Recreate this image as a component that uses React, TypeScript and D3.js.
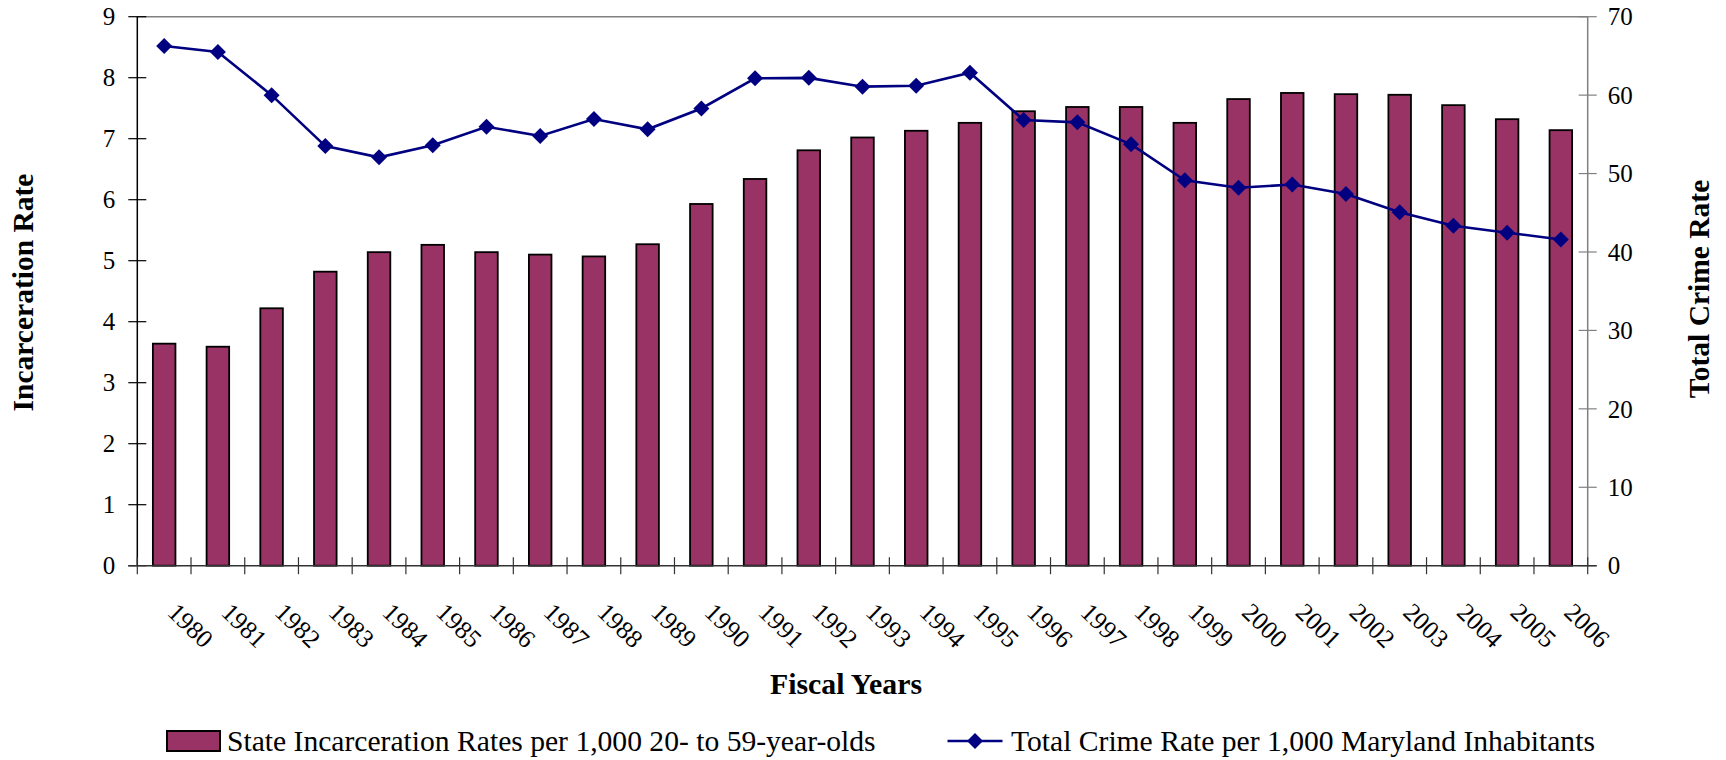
import React from "react";
import * as d3 from "d3";

const years = [
  "1980", "1981", "1982", "1983", "1984", "1985", "1986", "1987", "1988",
  "1989", "1990", "1991", "1992", "1993", "1994", "1995", "1996", "1997",
  "1998", "1999", "2000", "2001", "2002", "2003", "2004", "2005", "2006",
];

// State incarceration rate per 1,000 residents aged 20-59 (left axis)
const incarcerationRates = [
  3.64, 3.59, 4.22, 4.82, 5.14, 5.26, 5.14, 5.1, 5.07, 5.27, 5.93, 6.34, 6.81,
  7.02, 7.13, 7.26, 7.45, 7.52, 7.52, 7.26, 7.65, 7.75, 7.73, 7.72, 7.55, 7.32,
  7.14,
];

// Total crime rate per 1,000 Maryland inhabitants (right axis)
const crimeRates = [
  66.26, 65.5, 60.0, 53.5, 52.07, 53.6, 55.97, 54.8, 56.95, 55.64, 58.3, 62.14,
  62.2, 61.08, 61.2, 62.86, 56.83, 56.53, 53.73, 49.14, 48.2, 48.6, 47.4, 45.06,
  43.35, 42.46, 41.6,
];

const leftTicks = [0, 1, 2, 3, 4, 5, 6, 7, 8, 9];
const rightTicks = [0, 10, 20, 30, 40, 50, 60, 70];

const leftTitle = "Incarceration Rate";
const rightTitle = "Total Crime Rate";
const xTitle = "Fiscal Years";
const barLegend = "State Incarceration Rates per 1,000 20- to 59-year-olds";
const lineLegend = "Total Crime Rate per 1,000 Maryland Inhabitants";

const W = 1726;
const H = 760;
const plot = { left: 137.3, right: 1587.7, top: 16.7, bottom: 565.7 };
const FONT = "Liberation Serif";
const BAR_FILL = "#993366";
const LINE_COLOR = "#000080";

const diamond = (cx: number, cy: number, r: number) =>
  `M${cx},${cy - r}L${cx + r},${cy}L${cx},${cy + r}L${cx - r},${cy}Z`;

export default function App() {
  const x = d3
    .scaleBand<string>()
    .domain(years)
    .range([plot.left, plot.right])
    .padding(0);
  const yLeft = d3.scaleLinear().domain([0, 9]).range([plot.bottom, plot.top]);
  const yRight = d3.scaleLinear().domain([0, 70]).range([plot.bottom, plot.top]);

  const step = x.step();
  const barW = step * 0.42;
  const cx = (yr: string) => (x(yr) as number) + step / 2;

  const line = d3
    .line<number>()
    .x((_, i) => cx(years[i]))
    .y((d) => yRight(d));

  const boundaries = d3.range(years.length + 1).map((i) => plot.left + i * step);

  return (
    <svg
      width={W}
      height={H}
      style={{ position: "absolute", left: 0, top: 0, background: "#fff" }}
      fontFamily={FONT}
    >
      <rect x={0} y={0} width={W} height={H} fill="#fff" />

      {/* plot frame: top and right edges */}
      <line x1={plot.left} x2={plot.right} y1={plot.top} y2={plot.top} stroke="#808080" strokeWidth={1.5} />
      <line x1={plot.right} x2={plot.right} y1={plot.top} y2={plot.bottom} stroke="#808080" strokeWidth={1.5} />

      {/* bars */}
      {incarcerationRates.map((v, i) => (
        <rect
          key={years[i]}
          x={cx(years[i]) - barW / 2}
          y={yLeft(v)}
          width={barW}
          height={yLeft(0) - yLeft(v)}
          fill={BAR_FILL}
          stroke="#000"
          strokeWidth={1.8}
        />
      ))}

      {/* left axis */}
      <line x1={plot.left} x2={plot.left} y1={plot.top} y2={plot.bottom} stroke="#000" strokeWidth={1.5} />
      {leftTicks.map((t) => (
        <g key={`l${t}`}>
          <line x1={plot.left - 9} x2={plot.left + 9} y1={yLeft(t)} y2={yLeft(t)} stroke="#000" strokeWidth={1.2} />
          <text x={plot.left - 22} y={yLeft(t)} dy="0.35em" textAnchor="end" fontSize={25}>
            {t}
          </text>
        </g>
      ))}

      {/* right axis */}
      {rightTicks.map((t) => (
        <g key={`r${t}`}>
          <line x1={plot.right - 9} x2={plot.right + 9} y1={yRight(t)} y2={yRight(t)} stroke="#808080" strokeWidth={1.2} />
          <text x={plot.right + 20} y={yRight(t)} dy="0.35em" textAnchor="start" fontSize={25}>
            {t}
          </text>
        </g>
      ))}

      {/* bottom axis */}
      <line x1={plot.left - 9} x2={plot.right + 9} y1={plot.bottom} y2={plot.bottom} stroke="#333" strokeWidth={1.5} />
      {boundaries.map((bx, i) => (
        <line key={`b${i}`} x1={bx} x2={bx} y1={plot.bottom - 8.5} y2={plot.bottom + 8.5} stroke="#333" strokeWidth={1.2} />
      ))}
      {years.map((yr) => (
        <text
          key={`t${yr}`}
          transform={`translate(${cx(yr) + 2},${614}) rotate(44)`}
          textAnchor="start"
          fontSize={25.5}
        >
          {yr}
        </text>
      ))}

      {/* crime rate line */}
      <path d={line(crimeRates) || ""} fill="none" stroke={LINE_COLOR} strokeWidth={2.6} />
      {crimeRates.map((v, i) => (
        <path key={`m${i}`} d={diamond(cx(years[i]), yRight(v), 8)} fill={LINE_COLOR} />
      ))}

      {/* axis titles */}
      <text transform="translate(33,292.5) rotate(-90)" textAnchor="middle" fontSize={29.5} fontWeight="bold">
        {leftTitle}
      </text>
      <text transform="translate(1709,289) rotate(-90)" textAnchor="middle" fontSize={29.5} fontWeight="bold">
        {rightTitle}
      </text>
      <text x={846} y={694} textAnchor="middle" fontSize={29.8} fontWeight="bold">
        {xTitle}
      </text>

      {/* legend */}
      <rect x={167} y={731} width={53} height={20} fill={BAR_FILL} stroke="#000" strokeWidth={2} />
      <text x={227} y={751} fontSize={29.6}>
        {barLegend}
      </text>
      <line x1={947.5} x2={1002.5} y1={741} y2={741} stroke={LINE_COLOR} strokeWidth={2.6} />
      <path d={diamond(975, 741, 8)} fill={LINE_COLOR} />
      <text x={1011} y={751} fontSize={29.6}>
        {lineLegend}
      </text>
    </svg>
  );
}
